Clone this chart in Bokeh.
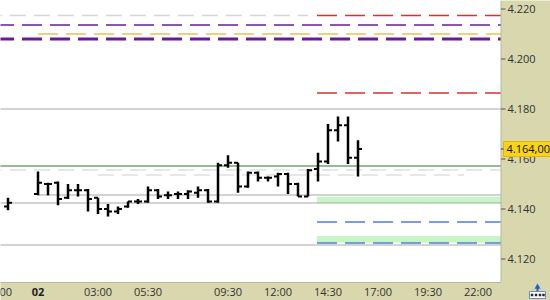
from bokeh.plotting import figure
from bokeh.models import Range1d
from bokeh.core.properties import value
from bokeh.embed import file_html
from bokeh.resources import INLINE

# Half-hour OHLC bars; time in hours from 00:00 on day 02
bar_time = [-1.5, 0, 0.5, 1, 1.5, 2, 2.5, 3, 3.5, 4, 4.5, 5, 5.5, 6, 6.5, 7, 7.5,
            8, 8.5, 9, 9.5, 10, 10.5, 11, 11.5, 12, 12.5, 13, 13.5, 14, 14.5,
            15, 15.5, 16]
bar_open = [4.1410, 4.1460, 4.1500, 4.1505, 4.1445, 4.1475, 4.1475, 4.1445, 4.1400,
            4.1390, 4.1410, 4.1430, 4.1430, 4.1475, 4.1455, 4.1460, 4.1460, 4.1465,
            4.1475, 4.1430, 4.1575, 4.1585, 4.1490, 4.1545, 4.1525, 4.1530, 4.1540,
            4.1500, 4.1450, 4.1560, 4.1590, 4.1715, 4.1735, 4.1605]
bar_high = [4.1445, 4.1550, 4.1505, 4.1510, 4.1500, 4.1500, 4.1480, 4.1445, 4.1420,
            4.1410, 4.1430, 4.1440, 4.1490, 4.1480, 4.1470, 4.1470, 4.1475, 4.1490,
            4.1480, 4.1585, 4.1615, 4.1585, 4.1550, 4.1550, 4.1530, 4.1545, 4.1545,
            4.1505, 4.1560, 4.1625, 4.1740, 4.1770, 4.1770, 4.1675]
bar_low = [4.1395, 4.1455, 4.1455, 4.1415, 4.1440, 4.1450, 4.1390, 4.1380, 4.1370,
           4.1380, 4.1405, 4.1420, 4.1425, 4.1440, 4.1440, 4.1440, 4.1440, 4.1445,
           4.1425, 4.1425, 4.1565, 4.1465, 4.1485, 4.1510, 4.1510, 4.1490, 4.1460,
           4.1450, 4.1450, 4.1510, 4.1580, 4.1670, 4.1580, 4.1530]
bar_close = [4.1425, 4.1505, 4.1500, 4.1440, 4.1475, 4.1475, 4.1440, 4.1400, 4.1390,
             4.1400, 4.1430, 4.1430, 4.1475, 4.1450, 4.1455, 4.1460, 4.1470, 4.1475,
             4.1430, 4.1575, 4.1585, 4.1490, 4.1545, 4.1525, 4.1525, 4.1540, 4.1500,
             4.1450, 4.1555, 4.1590, 4.1715, 4.1735, 4.1605, 4.1640]

# Horizontal levels
resistance_levels = [4.2174, 4.1864]          # from 14:00
support_levels = [4.1348, 4.1264]             # from 14:00
zone_bottom = [4.1423, 4.1265]                # from 14:00
zone_top = [4.1449, 4.1292]
levels_start = 13.95
old_level = 4.2174                            # until 13:30
old_level_end = 13.5
pivot_thin = 4.2136
pivot_thick = 4.2080
pivot_mid = 4.2100                            # from 00:00
pivot_mid_start = 0
solid_levels = [4.1800, 4.1456, 4.1424, 4.1256]
solid_levels_start = [-5, 0, -5, -5]
ref_line = 4.1572
light_levels = [4.1556, 4.1536]
light_levels_start = [-5, 3]
light_levels_end = [30, 21.3]

price_ticks = [4.12, 4.14, 4.16, 4.18, 4.20, 4.22]
time_ticks = [-2, 3, 5.5, 9.5, 12, 14.5, 17, 19.5, 22]
time_labels = ["22:00", "03:00", "05:30", "09:30", "12:00", "14:30", "17:00",
               "19:30", "22:00"]
day_tick = 0
day_label = "02"

# page geometry (pixels) and scale
W, H = 550, 300
PX_PER_HOUR = 20.0
PX_PER_PRICE = 2500.0
LEFT_TIME = -1.875
TOP_PRICE = 4.2234


def hx(px):
    return LEFT_TIME + px / PX_PER_HOUR


def py(px):
    return TOP_PRICE - px / PX_PER_PRICE


PLOT_R = hx(500.5)
PLOT_B = py(282)
FONT = value("Open Sans")
PANEL = "#d9d7ae"
TEXT = "#333333"

p = figure(width=W, height=H, output_backend="svg", toolbar_location=None,
           x_range=Range1d(hx(0), hx(W)), y_range=Range1d(py(H), py(0)),
           x_axis_location=None, y_axis_location=None, min_border=0)
p.background_fill_color = "white"
p.border_fill_color = PANEL
p.outline_line_color = None
p.grid.visible = False

# zones and levels
p.quad(left=[levels_start] * 2, right=[PLOT_R] * 2, bottom=zone_bottom, top=zone_top,
       fill_color="#c8f5c8", line_color=None)
p.segment(x0=solid_levels_start, x1=[PLOT_R] * 4, y0=solid_levels, y1=solid_levels,
          line_color="#a8a8a8", line_width=1.2)
p.segment(x0=light_levels_start, x1=light_levels_end, y0=light_levels, y1=light_levels,
          line_color="#d0d0d0", line_width=1.2, line_dash="16 8")
p.segment(x0=[-5], x1=[old_level_end], y0=[old_level], y1=[old_level],
          line_color="#d6d6d6", line_width=1.5, line_dash="16 8")
p.segment(x0=[levels_start] * 2, x1=[PLOT_R] * 2, y0=resistance_levels,
          y1=resistance_levels, line_color="#d83030", line_width=1.5, line_dash="20 8")
p.segment(x0=[levels_start] * 2, x1=[PLOT_R] * 2, y0=support_levels, y1=support_levels,
          line_color="#4f7fcf", line_width=1.5, line_dash="20 8")
p.segment(x0=[-5], x1=[PLOT_R], y0=[pivot_thin], y1=[pivot_thin],
          line_color="#6a1b9a", line_width=1.5, line_dash="20 8")
p.segment(x0=[pivot_mid_start], x1=[PLOT_R], y0=[pivot_mid], y1=[pivot_mid],
          line_color="#e8c45a", line_width=1.5, line_dash="20 8")
p.segment(x0=[-5], x1=[PLOT_R], y0=[pivot_thick], y1=[pivot_thick],
          line_color="#6a1b9a", line_width=3, line_dash="20 8")
p.segment(x0=[-5], x1=[PLOT_R], y0=[ref_line], y1=[ref_line],
          line_color="#267a26", line_width=1.2)

# OHLC bars
tick = 0.2
p.segment(x0=bar_time, x1=bar_time, y0=bar_low, y1=bar_high,
          line_color="black", line_width=2.5)
p.segment(x0=[t - tick for t in bar_time], x1=bar_time, y0=bar_open, y1=bar_open,
          line_color="black", line_width=2)
p.segment(x0=bar_time, x1=[t + tick for t in bar_time], y0=bar_close, y1=bar_close,
          line_color="black", line_width=2)

# axis panels
p.quad(left=[PLOT_R, hx(-10)], right=[hx(W + 10)] * 2, bottom=[py(H + 10)] * 2,
       top=[py(-10), PLOT_B], fill_color=PANEL, line_color=None)
p.segment(x0=[PLOT_R, hx(0)], x1=[PLOT_R, PLOT_R], y0=[py(0), PLOT_B],
          y1=[PLOT_B, PLOT_B], line_color="#b9b79a", line_width=1)

# price axis
p.segment(x0=[PLOT_R] * len(price_ticks), x1=[hx(505)] * len(price_ticks),
          y0=price_ticks, y1=price_ticks, line_color="#555555", line_width=1)
p.text(x=[hx(507)] * len(price_ticks), y=price_ticks,
       text=[f"{t:.3f}" for t in price_ticks], text_font=FONT,
       text_font_size="11px", text_color=TEXT, text_baseline="middle",
       text_align="left")

# time axis
p.text(x=time_ticks, y=[py(291)] * len(time_ticks), text=time_labels, text_font=FONT,
       text_font_size="11px", text_color=TEXT, text_baseline="middle",
       text_align="center")
p.text(x=[day_tick], y=[py(291)], text=[day_label], text_font=FONT,
       text_font_size="11px", text_font_style="bold", text_color="#222222",
       text_baseline="middle", text_align="center")

# last price tag
last = bar_close[-1]
last_text = f"{last * 1000:,.2f}".replace(",", " ").replace(".", ",").replace(" ", ".")
half = 7.5 / PX_PER_PRICE
p.quad(left=[hx(503)], right=[hx(W + 5)], bottom=[last - half], top=[last + half],
       fill_color="#f7d31c", line_color="#e0b800", line_width=1)
p.segment(x0=[PLOT_R], x1=[hx(503)], y0=[last], y1=[last], line_color="#333333",
          line_width=1)
p.text(x=[hx(506)], y=[last], text=[last_text], text_font=FONT,
       text_font_size="11px", text_color="#111111", text_baseline="middle",
       text_align="left")

# corner icon
p.quad(left=[hx(529)], right=[hx(545)], bottom=[py(298)], top=[py(291)],
       fill_color="white", line_color="#7b8bb0", line_width=1)
p.scatter(x=[hx(531.5), hx(535.5), hx(539.5), hx(543)], y=[py(294.5)] * 4,
          marker="square", size=2.5, fill_color="#1b2a55", line_color=None)
p.segment(x0=[hx(537)], x1=[hx(537)], y0=[py(290.5)], y1=[py(287)],
          line_color="#1e63d0", line_width=2)
p.scatter(x=[hx(537)], y=[py(286.5)], marker="triangle", size=6,
          fill_color="#1e63d0", line_color=None)

open("out.html", "w").write(file_html(p, INLINE))
